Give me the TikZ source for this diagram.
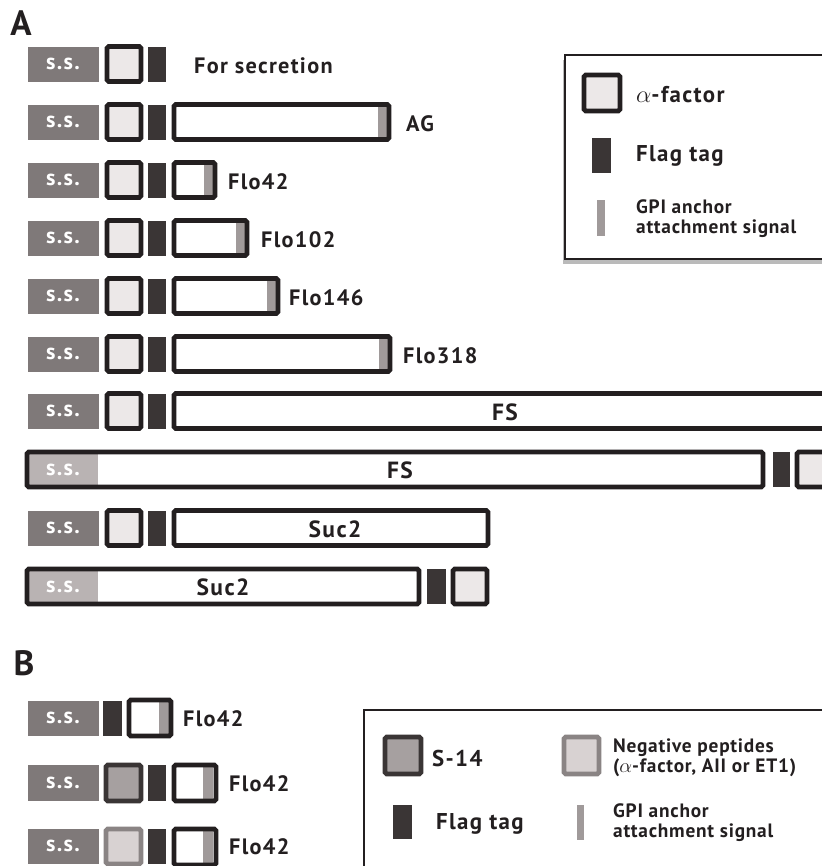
\documentclass[tikz,border=0pt]{standalone}
\usepackage{fontspec}
\setmainfont{PT Sans}
\usepackage{tikz}
\usetikzlibrary{shadows}

\definecolor{ink}{HTML}{231F20}
\definecolor{ssgrey}{HTML}{7F7979}
\definecolor{sslight}{HTML}{B9B3B3}
\definecolor{afill}{HTML}{ECE8E8}
\definecolor{flagc}{HTML}{3A3535}
\definecolor{gpic}{HTML}{A09A9A}
\definecolor{sfill}{HTML}{A6A0A0}
\definecolor{negfill}{HTML}{D8D2D2}
\definecolor{negedge}{HTML}{8A8484}

\begin{document}
\begin{tikzpicture}[
  x=0.03cm, y=-0.03cm,
  ss/.style={fill=ssgrey},
  sstext/.style={text=white, font=\addfontfeature{LetterSpace=6}\bfseries\fontsize{19}{21}\selectfont},
  afac/.style={draw=ink, fill=afill, line width=4pt, rounded corners=1.5pt},
  flag/.style={fill=flagc},
  gpi/.style={fill=gpic},
  cbox/.style={draw=ink, line width=4pt, rounded corners=1.5pt},
  lbl/.style={anchor=west, text=ink, font=\addfontfeature{LetterSpace=6}\bfseries\fontsize{19}{21}\selectfont},
  midlbl/.style={text=ink, font=\addfontfeature{LetterSpace=6}\bfseries\fontsize{20}{22}\selectfont},
  leglbl/.style={anchor=west, text=ink, align=left, font=\addfontfeature{LetterSpace=6}\bfseries\fontsize{19.5}{21}\selectfont},
  legsmall/.style={anchor=west, text=ink, align=left, font=\addfontfeature{LetterSpace=4}\bfseries\fontsize{16.5}{17}\selectfont},
  panel/.style={text=ink, font=\bfseries\fontsize{30}{32}\selectfont}
]
\useasboundingbox (0,0) rectangle (822,866);
\clip (0,0) rectangle (822,866);
\fill[white] (0,0) rectangle (822,866);

% panel A
\node[panel] (pA) at (21,23) {A};

% s.s. + alpha-factor + flag in front
\foreach \c in {64,122,180,238,296,354,411,528} {
  \fill[ss] (28,\c-17.5) rectangle (99,\c+17.5);
  \node[sstext] at (63,\c) {s.s.};
  \draw[afac] (107,\c-17.5) rectangle (141,\c+17.5);
  \fill[flag] (148,\c-17.5) rectangle (166,\c+17.5);
}

% anchored proteins, GPI signal at the right end
\foreach \c/\r in {122/391, 180/217, 238/249, 296/280, 354/392} {
  \fill[gpi] (\r-13,\c-16) rectangle (\r-3,\c+16);
  \draw[cbox] (174,\c-17.5) rectangle (\r-2,\c+17.5);
}
\node[lbl] (lsec) at (190,66) {For secretion};
\node[lbl] (lAG) at (402,124) {AG};
\node[lbl] (lFlo42) at (224,182) {Flo42};
\node[lbl] (lFlo102) at (257,240) {Flo102};
\node[lbl] (lFlo146) at (285,298) {Flo146};
\node[lbl] (lFlo318) at (399,356) {Flo318};

% FS
\draw[cbox] (174,393.5) rectangle (840,428.5);
\node[midlbl] (lFS) at (505,412) {FS};
\fill[sslight] (27,452) rectangle (98,487);
\draw[cbox] (27,452) rectangle (763,487);
\node[sstext] at (63,470) {s.s.};
\node[midlbl] (lFSb) at (400,470) {FS};
\fill[flag] (773,452) rectangle (790,487);
\draw[afac] (797,452) rectangle (835,487);

% Suc2
\draw[cbox] (174,510.5) rectangle (488,545.5);
\node[midlbl] (lSuc) at (335,529) {Suc2};
\fill[sslight] (27,569) rectangle (98,604);
\draw[cbox] (27,569) rectangle (419,604);
\node[sstext] at (63,587) {s.s.};
\node[midlbl] (lSucb) at (223,587) {Suc2};
\fill[flag] (427,569) rectangle (446,604);
\draw[afac] (453,569) rectangle (487,604);

% legend A
\draw[draw=ink, fill=white, line width=2.4pt,
  drop shadow={shadow xshift=-1.5pt, shadow yshift=-4pt, fill=black!45, opacity=.6}]
  (565,55) rectangle (845,259);
\draw[afac] (584,75) rectangle (620,111);
\node[leglbl] (kafac) at (632,95) {$\alpha$-factor};
\fill[flag] (592,138) rectangle (611,173);
\node[leglbl] (kflag) at (632,156) {Flag tag};
\fill[gpi] (597,200) rectangle (605,236);
\node[legsmall] (kgpi) at (632,219) {GPI anchor\\attachment signal};

% panel B
\node[panel] (pB) at (24,663) {B};

\fill[ss] (28,701) rectangle (99,736);
\node[sstext] at (63,718) {s.s.};
\fill[flag] (103,701) rectangle (122,736);
\fill[gpi] (159,701) rectangle (169,735);
\draw[cbox] (129,700) rectangle (171,736);
\node[lbl] (lB1) at (179,719) {Flo42};

\fill[ss] (28,765) rectangle (99,801);
\node[sstext] at (63,783) {s.s.};
\draw[draw=flagc, fill=sfill, line width=4pt, rounded corners=1.5pt] (106,765) rectangle (141,801);
\fill[flag] (148,765) rectangle (166,801);
\fill[gpi] (203,767) rectangle (213,799);
\draw[cbox] (174,765) rectangle (216,801);
\node[lbl] (lB2) at (225,784) {Flo42};

\fill[ss] (28,829) rectangle (99,864);
\node[sstext] at (63,846) {s.s.};
\draw[draw=negedge, fill=negfill, line width=4pt, rounded corners=1.5pt] (106,829) rectangle (141,864);
\fill[flag] (148,829) rectangle (166,864);
\fill[gpi] (203,831) rectangle (213,863);
\draw[cbox] (174,829) rectangle (216,865);
\node[lbl] (lB3) at (225,847) {Flo42};

% legend B
\draw[draw=ink, line width=1.5pt] (364,710) rectangle (845,880);
\draw[draw=flagc, fill=sfill, line width=4pt, rounded corners=1.5pt] (385,737) rectangle (421,774);
\node[leglbl] (ks14) at (428,758) {S-14};
\draw[draw=negedge, fill=negfill, line width=4pt, rounded corners=1.5pt] (564,737) rectangle (599,774);
\node[legsmall] (kneg) at (609,758) {Negative peptides\\($\alpha$-factor, AII or ET1)};
\fill[flag] (393,805) rectangle (412,839);
\node[leglbl] (kflagB) at (432,824) {Flag tag};
\fill[gpi] (577,805) rectangle (584,840);
\node[legsmall] (kgpiB) at (609,823) {GPI anchor\\attachment signal};
\end{tikzpicture}
\end{document}
